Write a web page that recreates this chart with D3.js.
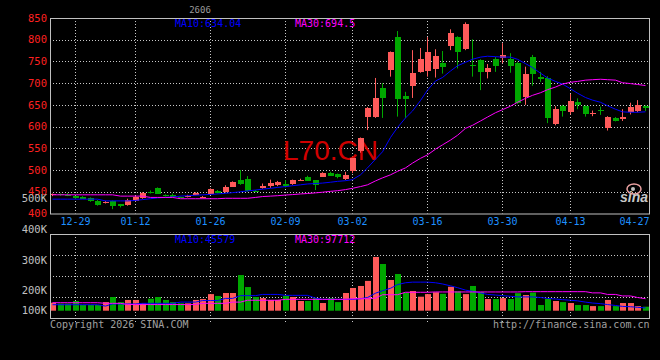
<!DOCTYPE html>
<html>
<head>
<meta charset="utf-8">
<script src="https://cdn.jsdelivr.net/npm/d3@7/dist/d3.min.js"></script>
<style>
html, body { margin: 0; padding: 0; background: #000; }
svg { display: block; }
text { font-family: "DejaVu Sans Mono", monospace; font-size: 10px; }
</style>
</head>
<body>
<div id="kline"></div>
<script>
// daily k-line, L70.CN, 12-24 .. 04-27

var dates = ["12-24","12-25","12-26","12-29","12-30","12-31","01-05","01-06","01-07","01-08",
	"01-09","01-12","01-13","01-14","01-15","01-16","01-19","01-20","01-21","01-22",
	"01-23","01-26","01-27","01-28","01-29","01-30","02-02","02-03","02-04","02-05",
	"02-06","02-09","02-10","02-11","02-12","02-13","02-24","02-25","02-26","02-27",
	"03-02","03-03","03-04","03-05","03-06","03-09","03-10","03-11","03-12","03-13",
	"03-16","03-17","03-18","03-19","03-20","03-23","03-24","03-25","03-26","03-27",
	"03-30","03-31","04-01","04-02","04-03","04-07","04-08","04-09","04-10","04-13",
	"04-14","04-15","04-16","04-17","04-20","04-21","04-22","04-23","04-24","04-27"];

var open  = [441,444,443,440,439,436,429,425,428,421, 420,430,436,450,459,442,443,438,438,443,
	436,445,452,450,462,477,480,452,459,464, 465,467,467,477,485,476,485,494,491,480,
	496,543,622,622,689,729,807,670,692,726, 728,733,746,786,806,779,742,753,725,755,
	757,756,747,668,761,715,711,605,648,634, 657,648,629,639,595,620,618,633,637,648];
var close = [444,442,441.5,435,435.5,429,420,427,417,416, 432,439,447,448.5,446,440,439,437,441,448,
	438,456,447,461,473,468,452,450.5,464,470, 472,462,477,478,476,464,494,488,483,489,
	527,573,643,666,666,771,665,664,723,755, 772,763,737,816,772,836,739,725,735,740,
	765,740,654,722,722,710,620,640,637,659, 650,630,632,636,621,614,622,644,650,644];
var high  = [446,446,447,441,440,437,431,429,430,422, 434,441,449,453,460,444,446,439,443,449,
	440,458,454,465,474,500,486,454,469,478, 475,477,478,480,487,477,495,496,492,496,
	528,575,645,712,700,773,820,680,776,781, 806,778,774,824,808,840,801,755,744,760,
	792,769,749,738,765,726,716,647,650,675, 665,649,637,646,624,622,640,655,661,649];
var low   = [440,441,440,433,434,427,418,423,410,414, 418,428,434,446,445,439,438,436,437,442,
	435,444,446,448,461,466,450,449,457,459, 463,460,466,476,475,454,484,487,481,477,
	493,540,592,620,620,715,623,620,666,724, 715,713,722,776,734,776,715,684,711,726,
	746,724,652,650,694,703,608,603,623,628, 640,623,624,627,591,612,613,628,633,636];

var volume = [161000,158000,158000,166600,153500,153500,153500,163000,179600,163000,
	170000,170000,159000,174000,179600,170000,163000,159000,159000,170000,
	173000,189000,183000,192600,192600,251000,212000,179600,176000,170000,
	170000,183000,179600,166600,166600,176000,160000,176000,163000,192600,
	209000,215500,232000,310000,287000,235000,254500,194000,199000,180600,
	189000,195000,190000,213000,198000,189000,215500,196000,173000,173000,
	176000,173000,192000,186000,194000,153500,173000,166600,163000,160000,
	153500,153500,150000,150000,170000,150000,160000,160000,150000,148000];

// moving averages as drawn on the chart
var ma10 = [433,433,433,433,433,433,433,429,429,429, 429,430,432,434,436,437,438,440,441,442,
	443,444,445,446.5,448,450,452,454,456,458, 460,462,464,466,468,469,470,472,474,475.5,
	478,489,505,525,542,575,598,620,636,660, 684,705,713,728,740,748,755,760,762,761,
	760,760,755,745,736,723,712,704,698,687, 677,667,661,656,648,640,634,633,633,634.04];
var ma30 = [443,443,443,443,443,443,443,443,443,440, 440,440,440,437,437,437,437,434,434,434,
	434,434,434,435,435,435,435,437,439,440, 441,442.5,443.5,445,446,447.5,449,451,452.5,455,
	458,462,466,475,482,489,497,505,516,527, 535,548,558,569,580,596,603,613,622,632,
	639,647,656,665,672,678,685,691,698,702, 704,707,708,709,708,707,701,699,697,694.5];
var volMa10 = [154500,154500,154500,154500,154500,154500,154500,150000,157000,157000,
	157000,157000,159000,159000,159000,159000,159000,163000,163000,163000,
	168000,168000,168000,175000,175000,184000,184000,184000,188000,188000,
	188000,185000,185000,185000,185000,176000,172000,172000,172000,172000,
	172000,174000,178000,192000,200000,208000,220000,226000,228000,228000,
	228000,226000,222000,216000,210000,202000,198000,193000,188000,186000,
	184000,182000,180000,180000,180000,178000,175000,173000,171000,169000,
	167000,163000,160000,158000,155000,152000,149000,148000,146000,144000];
var volMa30 = [161000,161000,161000,161000,161000,161000,161000,159000,159000,159000,
	155000,155000,155000,155000,155000,155000,155000,155000,155000,155000,
	159000,159000,159000,159000,163000,163000,169000,169000,169000,169000,
	169000,172000,172000,172000,172000,172000,172000,172000,172000,172000,
	174000,174000,174000,176000,187000,187000,187000,195000,195000,195000,
	195000,196000,196000,196000,196000,196000,196000,196000,196000,196000,
	196000,196000,196000,197000,197000,197000,197000,197000,197000,197000,
	197000,197000,193000,193000,188000,188000,183000,183000,178000,174000];

var priceTicks = [400,450,500,550,600,650,700,750,800,850];
var volTicks = [500000,400000,300000,200000,100000];
var volTickLabels = ["500K","400K","300K","200K","100K"];
var dateTicks = ["12-29","01-12","01-26","02-09","03-02","03-16","03-30","04-13","04-27"];

var width = 660, height = 360;
var left = 50, right = 649.5;
var main = {top: 18, bottom: 213.5};
var vol = {top: 234, bottom: 318};

var up = "#ff5a5a", down = "#00a800";

var svg = d3.select("#kline").append("svg")
	.attr("width", width)
	.attr("height", height)
	.style("background", "#000");

var x = d3.scaleBand()
	.domain(dates)
	.range([49.5, 649.5])
	.paddingInner(0.2)
	.paddingOuter(0.1);
var bw = x.bandwidth();

var y = d3.scaleLinear().domain([400, 850]).range([main.bottom, main.top]);
var yv = d3.scaleLinear().domain([135000, 500000]).range([310.7, 198.6]).clamp(true);
var gridV = d3.scaleLinear().domain([0, 4]).range([vol.top, vol.bottom]);

var bars = dates.map(function(d, i) {
	return {date: d, o: open[i], c: close[i], h: high[i], l: low[i], v: volume[i],
		ma10: ma10[i], ma30: ma30[i], vma10: volMa10[i], vma30: volMa30[i]};
});

function cx(d) { return Math.round(x(d)) + 2.5; }
function colour(d) { return d.c >= d.o ? up : down; }

// grid
var grid = svg.append("g").attr("stroke", "#c8c8c8").attr("stroke-dasharray", "1,2");

grid.selectAll("line.h")
	.data(priceTicks.filter(function(t) { return t > 400 && t < 850; }))
	.enter().append("line")
		.attr("x1", left).attr("x2", right)
		.attr("y1", function(t) { return Math.round(y(t)) + 0.5; })
		.attr("y2", function(t) { return Math.round(y(t)) + 0.5; });

grid.selectAll("line.vh")
	.data([1, 2, 3])
	.enter().append("line")
		.attr("x1", left).attr("x2", right)
		.attr("y1", function(k) { return Math.round(gridV(k)) + 0.5; })
		.attr("y2", function(k) { return Math.round(gridV(k)) + 0.5; });

var dateGrid = dateTicks.filter(function(d) { return cx(d) < right - 8; });

grid.selectAll("line.v")
	.data(dateGrid)
	.enter().append("line")
		.attr("x1", cx).attr("x2", cx)
		.attr("y1", main.top).attr("y2", main.bottom);

grid.selectAll("line.vv")
	.data(dateGrid)
	.enter().append("line")
		.attr("x1", cx).attr("x2", cx)
		.attr("y1", vol.top).attr("y2", vol.bottom + 4);

// big code watermark
svg.append("text")
	.attr("x", 283)
	.attr("y", 160)
	.style("font-family", "'Liberation Sans', Arial, sans-serif")
	.style("font-size", "28px")
	.attr("fill", "#d00000")
	.text("L70.CN");

// candles
var candles = svg.append("g");

candles.selectAll("line.wick")
	.data(bars)
	.enter().append("line")
		.attr("x1", function(d) { return cx(d.date); })
		.attr("x2", function(d) { return cx(d.date); })
		.attr("y1", function(d) { return y(d.h); })
		.attr("y2", function(d) { return y(d.l); })
		.attr("stroke", colour);

candles.selectAll("rect.body")
	.data(bars)
	.enter().append("rect")
		.attr("x", function(d) { return Math.round(x(d.date)); })
		.attr("width", bw)
		.attr("y", function(d) { return Math.round(y(Math.max(d.o, d.c))); })
		.attr("height", function(d) { return Math.max(1, Math.round(Math.abs(y(d.o) - y(d.c)))); })
		.attr("fill", colour);

// volume bars
svg.append("g").selectAll("rect")
	.data(bars)
	.enter().append("rect")
		.attr("x", function(d) { return Math.round(x(d.date)); })
		.attr("width", bw)
		.attr("y", function(d) { return yv(d.v); })
		.attr("height", function(d) { return yv(135000) - yv(d.v); })
		.attr("fill", colour);

// moving average lines
function maLine(scale, key) {
	return d3.line()
		.x(function(d) { return cx(d.date); })
		.y(function(d) { return scale(d[key]); });
}

var lines = [
	{scale: y, key: "ma10", colour: "#0000ff"},
	{scale: y, key: "ma30", colour: "#ff00ff"},
	{scale: yv, key: "vma10", colour: "#0000ff"},
	{scale: yv, key: "vma30", colour: "#ff00ff"}
];
lines.forEach(function(l) {
	svg.append("path")
		.datum(bars)
		.attr("fill", "none")
		.attr("stroke", l.colour)
		.attr("stroke-width", 1)
		.attr("d", maLine(l.scale, l.key));
});

// frames
[main, vol].forEach(function(p) {
	svg.append("rect")
		.attr("x", left + 0.5)
		.attr("y", p.top + 0.5)
		.attr("width", right - left - 0.5)
		.attr("height", p.bottom - p.top)
		.attr("fill", "none")
		.attr("stroke", "#c0c0c0");
});

// price axis labels
svg.append("g").selectAll("text")
	.data(priceTicks)
	.enter().append("text")
		.attr("x", 47)
		.attr("y", function(t) { return y(t); })
		.attr("dy", "0.35em")
		.attr("text-anchor", "end")
		.attr("fill", "#ff2020")
		.style("font-size", "10.5px")
		.text(function(t) { return t; });

// volume axis labels
svg.append("g").selectAll("text")
	.data(volTicks)
	.enter().append("text")
		.attr("x", 47)
		.attr("y", function(t) { return yv(t); })
		.attr("dy", "0.35em")
		.attr("text-anchor", "end")
		.attr("fill", "#c0c0c0")
		.style("font-size", "10.5px")
		.text(function(t, i) { return volTickLabels[i]; });

// date labels
svg.append("g").selectAll("text")
	.data(dateTicks)
	.enter().append("text")
		.attr("x", function(d) { return cx(d) + 15 > right ? right : cx(d); })
		.attr("y", 221)
		.attr("dy", "0.35em")
		.attr("text-anchor", function(d) { return cx(d) + 15 > right ? "end" : "middle"; })
		.attr("fill", "#1e90ff")
		.text(function(d) { return d; });

// legends
var last = bars[bars.length - 1];
function legend(tx, ty, colour, txt) {
	svg.append("text").attr("x", tx).attr("y", ty).attr("dy", "0.35em")
		.attr("fill", colour).text(txt);
}
legend(175, 23, "#0000ff", "MA10:" + last.ma10.toFixed(2));
legend(295, 23, "#ff00ff", "MA30:" + last.ma30);
legend(175, 239, "#0000ff", "MA10:45579");
legend(295, 239, "#ff00ff", "MA30:97712");

svg.append("text")
	.attr("x", 200).attr("y", 10).attr("dy", "0.35em")
	.attr("text-anchor", "middle")
	.attr("fill", "#9a9a9a")
	.style("font-size", "9px")
	.text("2606");

svg.append("text")
	.attr("x", left).attr("y", 324).attr("dy", "0.35em")
	.attr("fill", "#a0a0a0")
	.text("Copyright 2026 SINA.COM");

svg.append("text")
	.attr("x", right).attr("y", 324).attr("dy", "0.35em")
	.attr("text-anchor", "end")
	.attr("fill", "#a0a0a0")
	.text("http://finance.sina.com.cn");

// sina logo
var logo = svg.append("g").attr("transform", "translate(634,195)");
logo.append("ellipse")
	.attr("cx", 0).attr("cy", -6).attr("rx", 7).attr("ry", 5)
	.attr("fill", "none").attr("stroke", "#e8a0a0").attr("stroke-width", 1.5);
logo.append("circle").attr("cx", -1).attr("cy", -6).attr("r", 2).attr("fill", "#c0c0c0");
logo.append("text")
	.attr("x", 0).attr("y", 7)
	.attr("text-anchor", "middle")
	.attr("fill", "#c8c8c8")
	.style("font-family", "'Liberation Sans', Arial, sans-serif")
	.style("font-size", "14px")
	.style("font-weight", "bold")
	.style("font-style", "italic")
	.text("sina");
</script>
</body>
</html>
